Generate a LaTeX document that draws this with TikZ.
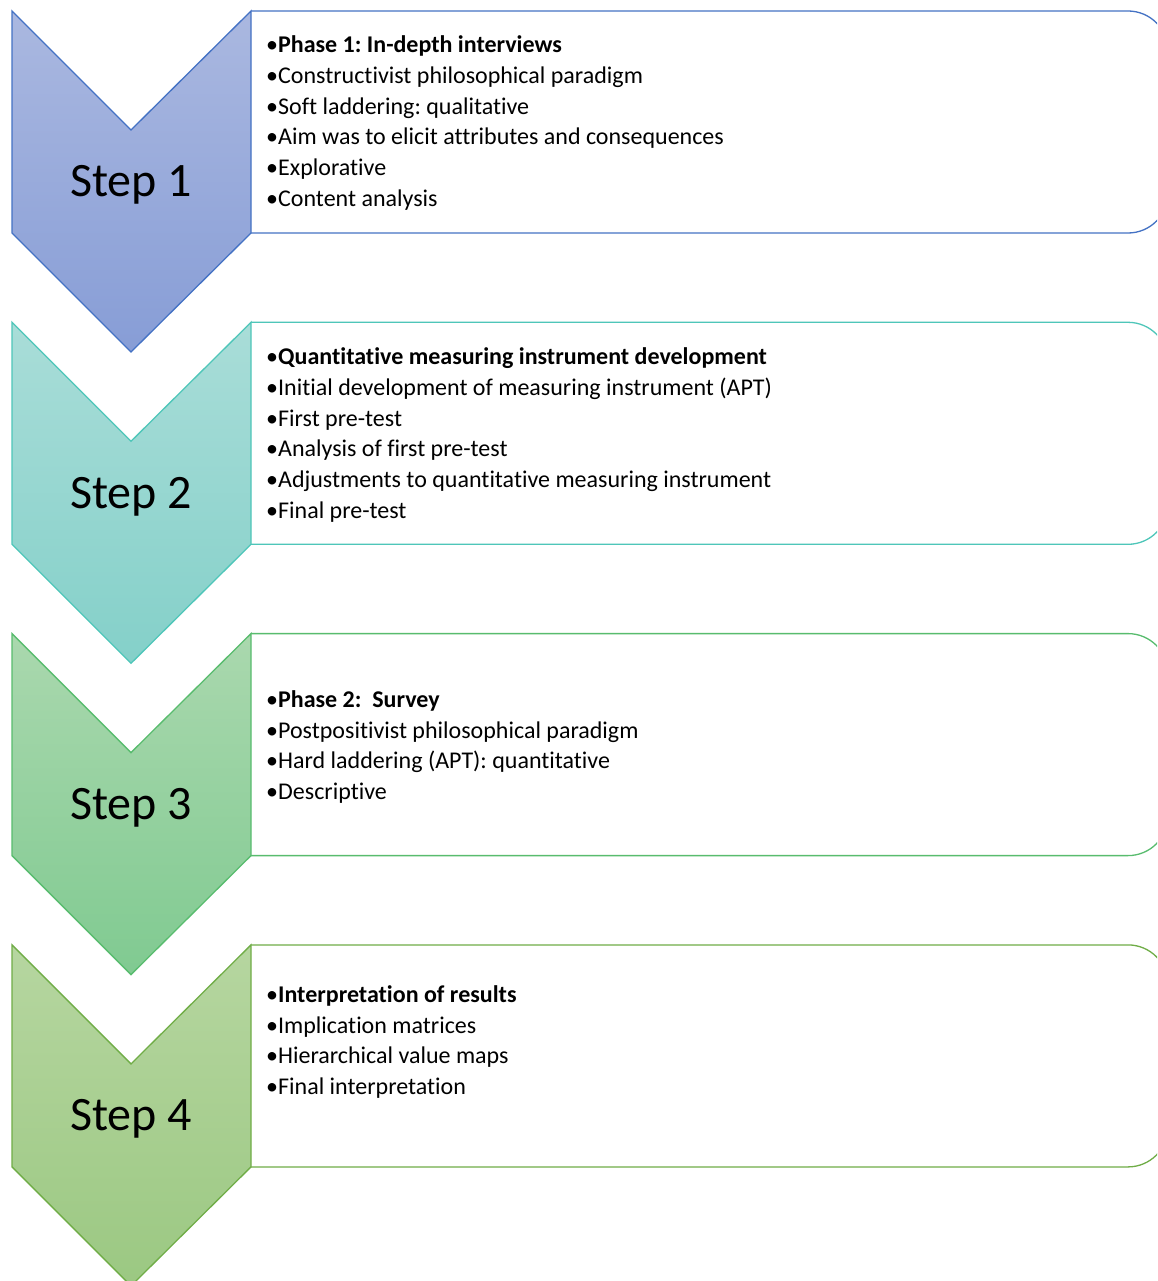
\documentclass[tikz,border=0pt]{standalone}
\usepackage{fontspec}
\setmainfont{Carlito}[Ligatures=NoCommon]
\frenchspacing
\definecolor{s1}{HTML}{4472C4}\definecolor{t1}{HTML}{AAB8E0}\definecolor{b1}{HTML}{879DD6}
\definecolor{s2}{HTML}{4EC6B9}\definecolor{t2}{HTML}{A9DDD8}\definecolor{b2}{HTML}{84D0C9}
\definecolor{s3}{HTML}{58BC6E}\definecolor{t3}{HTML}{AAD8AE}\definecolor{b3}{HTML}{80CA91}
\definecolor{s4}{HTML}{70AD47}\definecolor{t4}{HTML}{B6D6A0}\definecolor{b4}{HTML}{9BC882}
\newcommand\chevshape[5]{%
  % #1 top y, #2 stroke, #3 top fill, #4 bottom fill, #5 label
  \draw[boxline, draw=#2, rounded corners=40] (251,#1) -- (1168,#1) -- (1168,#1+222) -- (251,#1+222);
  \draw[boxline, draw=#2, top color=#3, bottom color=#4]
    (12,#1) -- (131,#1+119) -- (251,#1) -- (251,#1+222) -- (131,#1+341) -- (12,#1+222) -- cycle;
  \node[steplabel] (label#5) at (131,#1+186) {Step #5};
}
\begin{document}
\begin{tikzpicture}[x=1pt,y=-1pt,
  boxline/.style={line width=1.3pt, line join=miter},
  steplabel/.style={anchor=base, font=\fontsize{48}{52}\selectfont, inner sep=0pt},
  bullets/.style={anchor=west, align=left, inner sep=0pt, font=\fontsize{24}{30.9}\selectfont}]
\useasboundingbox (0,0) rectangle (1157,1281);
\clip (0,0) rectangle (1157,1281);
\fill[white] (0,0) rectangle (1157,1281);
\chevshape{11}{s1}{t1}{b1}{1}
\chevshape{322.3}{s2}{t2}{b2}{2}
\chevshape{633.6}{s3}{t3}{b3}{3}
\chevshape{944.9}{s4}{t4}{b4}{4}
\node[bullets] (text1) at (266,123) {%
•\textbf{Phase 1: In-depth interviews}\\
•Constructivist philosophical paradigm\\
•Soft laddering: qualitative\\
•Aim was to elicit attributes and consequences\\
•Explorative\\
•Content analysis};
\node[bullets] (text2) at (266,435) {%
•\textbf{Quantitative measuring instrument development}\\
•Initial development of measuring instrument (APT)\\
•First pre-test\\
•Analysis of first pre-test\\
•Adjustments to quantitative measuring instrument\\
•Final pre-test};
\node[bullets] (text3) at (266,747) {%
•\textbf{Phase 2:\ \ Survey}\\
•Postpositivist philosophical paradigm\\
•Hard laddering (APT): quantitative\\
•Descriptive};
\node[bullets] (text4) at (266,1042) {%
•\textbf{Interpretation of results}\\
•Implication matrices\\
•Hierarchical value maps\\
•Final interpretation};
\end{tikzpicture}
\end{document}
